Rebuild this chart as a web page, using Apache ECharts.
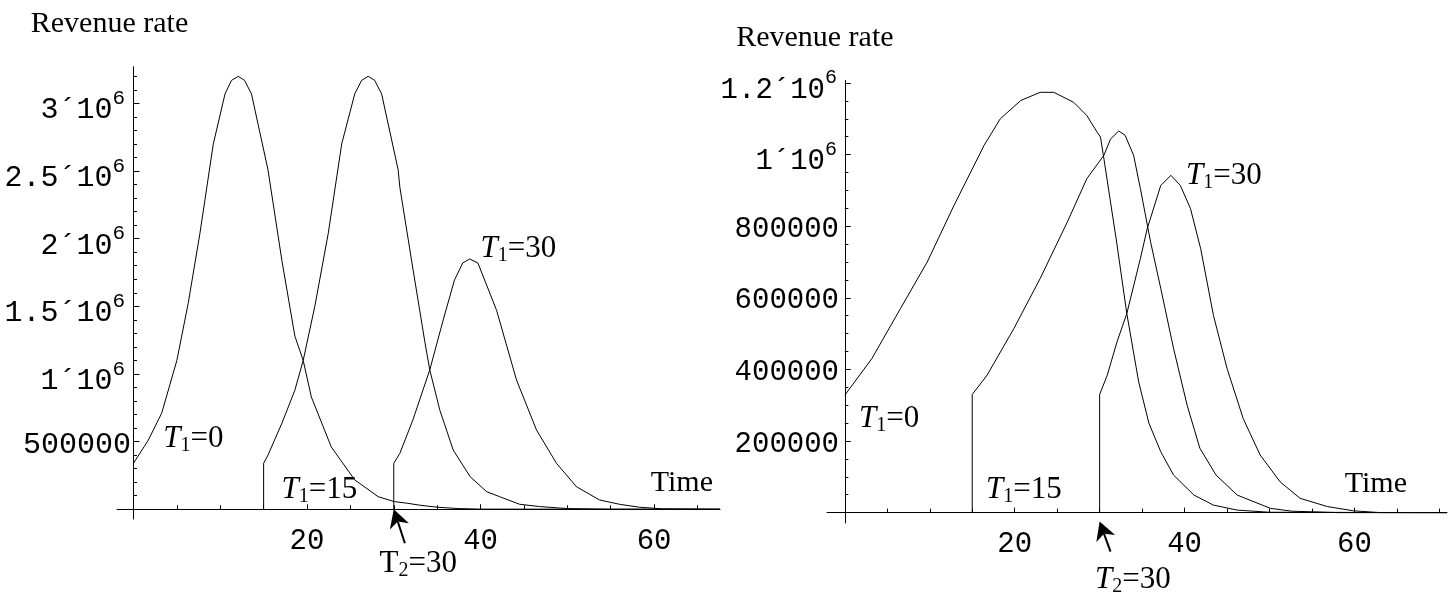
<!DOCTYPE html>
<html><head><meta charset="utf-8">
<script src="https://cdn.jsdelivr.net/npm/echarts@6/dist/echarts.min.js"></script>
<style>html,body{margin:0;padding:0;background:#fff}#c{width:1453px;height:597px}</style>
</head><body><div id="c"></div>
<script>
// ---------- data: left panel ----------
const leftT0Time = [0,1.7,3.25,5.0,6.3,7.66,9.2,10.55,11.3,12.07,12.8,13.6,15.5,17.1,18.6,19.56,20.5,22.8,25.5,28.2,30.1,31.5,33.0,35.0,37.5,40.0,67.6];
const leftT0Rate = [340000,510000,710000,1100000,1520000,2040000,2700000,3070000,3170000,3200000,3170000,3070000,2510000,1840000,1280000,1100000,830000,460000,217000,93000,56000,45000,30000,15000,5000,1000,0];
const leftT15Time = [15,15,15.5,17.1,18.6,19.56,20.9,22.45,24.0,25.5,26.3,27.05,27.8,28.6,30.5,30.7,32.1,33.6,34.15,35.3,36.85,38.8,40.7,42.2,44.5,46.8,50,55,67.6];
const leftT15Rate = [0,340000,400000,635000,880000,1100000,1500000,2040000,2700000,3070000,3170000,3200000,3170000,3070000,2510000,2380000,1820000,1230000,1030000,734000,438000,241000,130000,93000,37000,20000,5000,0,0];
const leftT30Time = [30,30,30.7,32.2,34.15,35.7,37.0,37.95,38.75,39.7,41.85,44.15,46.45,48.75,51.05,53.7,56.0,58.3,61,67.6];
const leftT30Rate = [0,340000,413000,660000,1030000,1400000,1695000,1820000,1850000,1820000,1470000,955000,586000,340000,167000,69000,37000,15000,3000,0];

// ---------- data: right panel ----------
const rightT0Time = [0,3.2,6.55,9.7,12.85,16.4,18.3,20.7,23.0,24.6,26.95,28.5,29.7,30.1,30.5,32.0,33.2,34.6,35.8,37.2,38.7,41.1,43.4,46.2,50,70.9];
const rightT0Rate = [328000,431000,570000,700000,858000,1026000,1100000,1151000,1174000,1174000,1146000,1109000,1063000,1049000,989000,756000,556000,365000,250000,170000,105000,49000,21000,7000,1000,0];
const rightT15Time = [15,15,16.75,19.9,23.0,26.2,28.5,30.5,31.3,32.25,33.0,34.0,34.8,36.0,37.2,38.7,40.3,41.8,43.7,46.2,50.1,52.6,58,70.9];
const rightT15Rate = [0,330000,384000,514000,654000,812000,933000,998000,1044000,1066000,1054000,998000,905000,756000,626000,459000,300000,180000,105000,49000,12000,4000,0,0];
const rightT30Time = [30,30,30.9,32.05,33.2,34.8,35.6,37.2,38.4,39.5,40.7,41.9,43.4,45.0,46.9,48.9,51.25,53.6,56.8,59.9,63,70.9];
const rightT30Rate = [0,330000,384000,477000,556000,710000,793000,914000,942000,914000,849000,737000,551000,403000,263000,161000,86000,40000,17000,5000,0,0];

// ---------- axes / tick labels ----------
const xTickLabels = [20, 40, 60];
const leftXMinor = [5,10,15,25,30,35,45,50,55,65];
const rightXMinor = [5,10,15,25,30,35,45,50,55,65,70];
const leftYTicks = [500000,1000000,1500000,2000000,2500000,3000000];
const rightYTicks = [200000,400000,600000,800000,1000000,1200000];
const leftXRange = [-1.9, 67.6], leftYRange = [-72000, 3271000];
const rightXRange = [-2.1, 70.9], rightYRange = [-29000, 1207000];
const yName = 'Revenue rate', xName = 'Time';

// ---------- annotations (data coordinates) ----------
const leftT1Labels = [['0', 6.91, 520000], ['15', 21.43, 146000], ['30', 44.35, 1925000]];
const rightT1Labels = [['0', 5.21, 263000], ['15', 21.09, 62500], ['30', 44.62, 942000]];
const leftT2Label = ['30', 32.83, -404000];
const rightT2Label = ['30', 33.92, -188000];
const leftArrow = [[31.28, -251000], [30, 0]];
const rightArrow = [[31.28, -109000], [30, -25000]];

const MONO = '"Liberation Mono", "Courier New", monospace';
const SERIF = '"Liberation Serif", "Times New Roman", serif';

function minorList(step, max, majorStep) {
  const out = [];
  for (let v = step; v <= max + 1e-6; v += step) if (Math.round(v) % majorStep !== 0) out.push(v);
  return out;
}
const leftYMinor = minorList(100000, 3200000, 500000);
const rightYMinor = minorList(50000, 1150000, 200000);

function yFmt(v) {
  if (v >= 1000000) return '{b|' + (v / 1000000) + '\u00B410}{s|6}';
  return '{p|' + v + '}';
}
function yRich(fs, sfs, spadR) {
  return {
    b: {fontFamily: MONO, fontSize: fs, lineHeight: 28, padding: [14, 0, 0, 0], color: '#000'},
    s: {fontFamily: MONO, fontSize: sfs, lineHeight: 20, padding: [6, spadR, 16, 0], color: '#000'},
    p: {fontFamily: MONO, fontSize: fs, lineHeight: 28, padding: [6, 0, 0, 0], color: '#000'}
  };
}
const pairs = (t, v) => t.map((x, i) => [x, v[i]]);

function makeAxes(gi, xr, yr, xMinor, yTicks, yMinor, o) {
  const axisLine = {show: true, onZero: true, onZeroAxisIndex: o.idx, lineStyle: {color: '#000', width: 1}};
  const xs = [{
    type: 'value', gridIndex: gi, min: xr[0], max: xr[1], position: 'bottom',
    axisLine: axisLine, splitLine: {show: false},
    axisTick: {show: true, inside: true, length: 5, customValues: xTickLabels, lineStyle: {color: '#000'}},
    axisLabel: {customValues: xTickLabels, margin: o.xMargin, fontFamily: MONO, fontSize: 29, color: '#000'},
    name: xName, nameLocation: 'end', nameGap: 0, nameMoveOverlap: false,
    nameTextStyle: {fontFamily: SERIF, fontSize: 30, color: '#000', align: 'right', verticalAlign: 'bottom', lineHeight: 30, padding: [0, o.timePadR, o.timePadB, 0]}
  }, {
    type: 'value', gridIndex: gi, min: xr[0], max: xr[1], position: 'bottom',
    axisLine: {show: false, onZero: true, onZeroAxisIndex: o.idx}, splitLine: {show: false},
    axisTick: {show: true, inside: true, length: 4, customValues: xMinor, lineStyle: {color: '#000'}},
    axisLabel: {show: false}
  }];
  const ys = [{
    type: 'value', gridIndex: gi, min: yr[0], max: yr[1], position: 'left',
    axisLine: axisLine, splitLine: {show: false},
    axisTick: {show: true, inside: true, length: 6, customValues: yTicks, lineStyle: {color: '#000'}},
    axisLabel: {customValues: yTicks, margin: o.yMargin, formatter: yFmt, rich: yRich(o.yfs, o.sfs, o.spadR)},
    name: yName, nameLocation: 'end', nameGap: o.nameGap, nameMoveOverlap: false,
    nameTextStyle: {fontFamily: SERIF, fontSize: 30, color: '#000', align: 'center', verticalAlign: 'bottom', lineHeight: 30, padding: [0, o.namePadR, 0, 0]}
  }, {
    type: 'value', gridIndex: gi, min: yr[0], max: yr[1], position: 'left',
    axisLine: {show: false, onZero: true, onZeroAxisIndex: o.idx}, splitLine: {show: false},
    axisTick: {show: true, inside: true, length: 3.5, customValues: yMinor, lineStyle: {color: '#000'}},
    axisLabel: {show: false}
  }];
  return {xs, ys};
}

const A = makeAxes(0, leftXRange, leftYRange, leftXMinor, leftYTicks, leftYMinor,
  {idx: 0, xMargin: 8, yMargin: -14, yfs: 30, sfs: 21, spadR: 6, nameGap: 28, namePadR: 48, timePadR: 7, timePadB: 11});
const B = makeAxes(1, rightXRange, rightYRange, rightXMinor, rightYTicks, rightYMinor,
  {idx: 2, xMargin: 7, yMargin: -12, yfs: 29, sfs: 20, spadR: 2, nameGap: 27, namePadR: 60, timePadR: 40, timePadB: 13});

function lineSeries(t, v, xi, yi) {
  return {type: 'line', xAxisIndex: xi, yAxisIndex: yi, data: pairs(t, v), showSymbol: false, symbol: 'none',
    lineStyle: {color: '#000', width: 1}, itemStyle: {color: '#000'}, silent: true, clip: true};
}

const chart = echarts.init(document.getElementById('c'), null, {renderer: 'canvas'});
chart.setOption({
  backgroundColor: '#fff',
  animation: false,
  grid: [
    {left: 117, top: 66.7, width: 603, height: 452.3, outerBoundsMode: 'none', containLabel: false},
    {left: 827, top: 80.5, width: 620, height: 442.5, outerBoundsMode: 'none', containLabel: false}
  ],
  xAxis: A.xs.concat(B.xs),
  yAxis: A.ys.concat(B.ys),
  series: [
    lineSeries(leftT0Time, leftT0Rate, 0, 0),
    lineSeries(leftT15Time, leftT15Rate, 0, 0),
    lineSeries(leftT30Time, leftT30Rate, 0, 0),
    lineSeries(rightT0Time, rightT0Rate, 2, 2),
    lineSeries(rightT15Time, rightT15Rate, 2, 2),
    lineSeries(rightT30Time, rightT30Rate, 2, 2)
  ]
});

// ---------- annotations positioned through the axes' scales ----------
const labRich = (italic) => ({
  t: {fontFamily: SERIF, fontStyle: italic ? 'italic' : 'normal', fontSize: 31, lineHeight: 34, fill: '#000', color: '#000'},
  s: {fontFamily: SERIF, fontSize: 20, lineHeight: 20, verticalAlign: 'bottom', fill: '#000', color: '#000'},
  e: {fontFamily: SERIF, fontSize: 31, lineHeight: 34, fill: '#000', color: '#000'}
});
function px(ai, p) { return chart.convertToPixel({xAxisIndex: ai, yAxisIndex: ai}, p); }
function textEl(ai, sub, val, t, v, italic) {
  const p = px(ai, [t, v]);
  return {type: 'text', x: p[0], y: p[1], silent: true, z: 100,
    style: {text: '{t|T}{s|' + sub + '}{e|=' + val + '}', rich: labRich(italic), align: 'center', verticalAlign: 'middle', fill: '#000'}};
}
function arrowEls(ai, arr) {
  const a = px(ai, arr[0]), b = px(ai, arr[1]);
  let dx = b[0] - a[0], dy = b[1] - a[1];
  const len = Math.hypot(dx, dy); dx /= len; dy /= len;
  const L = 18, W = 10, N = 5;
  const bx = b[0] - dx * L, by = b[1] - dy * L;
  const nx = b[0] - dx * (L - N), ny = b[1] - dy * (L - N);
  return [
    {type: 'line', silent: true, z: 100, shape: {x1: a[0], y1: a[1], x2: nx, y2: ny}, style: {stroke: '#000', lineWidth: 2}},
    {type: 'polygon', silent: true, z: 100, shape: {points: [[b[0], b[1]], [bx - dy * W, by + dx * W], [nx, ny], [bx + dy * W, by - dx * W]]}, style: {fill: '#000'}}
  ];
}
const g = [];
leftT1Labels.forEach(l => g.push(textEl(0, '1', l[0], l[1], l[2], true)));
rightT1Labels.forEach(l => g.push(textEl(2, '1', l[0], l[1], l[2], true)));
g.push(textEl(0, '2', leftT2Label[0], leftT2Label[1], leftT2Label[2], false));
g.push(textEl(2, '2', rightT2Label[0], rightT2Label[1], rightT2Label[2], true));
arrowEls(0, leftArrow).forEach(e => g.push(e));
arrowEls(2, rightArrow).forEach(e => g.push(e));
chart.setOption({graphic: g});
</script></body></html>
